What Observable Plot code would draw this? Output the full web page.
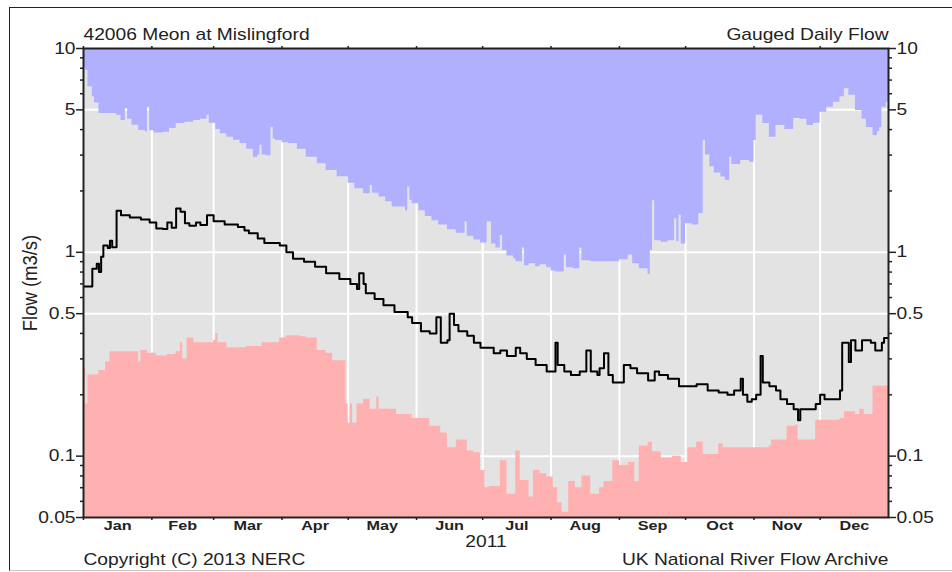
<!DOCTYPE html>
<html><head><meta charset="utf-8">
<script src="https://cdn.jsdelivr.net/npm/d3@7"></script>
<script src="https://cdn.jsdelivr.net/npm/@observablehq/plot@0.6"></script>
<style>
html,body{margin:0;padding:0;background:#fff;}
#wrap{position:relative;width:952px;height:572px;overflow:hidden;}
#border{position:absolute;left:9px;top:7px;width:960px;height:562px;border-top:1.5px solid #222;border-left:1.5px solid #222;border-bottom:1px solid #c8c8c8;}
#wrap svg{position:absolute;left:0;top:0;}
</style></head><body><div id="wrap"><div id="border"></div></div>
<script>
// ---- data (m3/s) ----
const title = "42006 Meon at Mislingford";
const subtitle = "Gauged Daily Flow";
const yearLabel = "2011";
const footLeft = "Copyright (C) 2013 NERC";
const footRight = "UK National River Flow Archive";
const yLabel = "Flow (m3/s)";
const monthStarts = ["2011-01-01","2011-02-01","2011-03-01","2011-04-01","2011-05-01","2011-06-01","2011-07-01","2011-08-01","2011-09-01","2011-10-01","2011-11-01","2011-12-01"];
const monthLabels = ["Jan","Feb","Mar","Apr","May","Jun","Jul","Aug","Sep","Oct","Nov","Dec"];
const yMajor = [10,5,1,0.5,0.1,0.05];
const yMajorLabels = ["10","5","1","0.5","0.1","0.05"];
const yMinor = [9,8,7,6,4,3,2,0.9,0.8,0.7,0.6,0.4,0.3,0.2,0.09,0.08,0.07,0.06];
const yGrid = [5,1,0.5,0.1];

const flow = [["2011-01-01",0.68],["2011-01-05",0.83],["2011-01-07",0.88],["2011-01-08",0.80],["2011-01-09",0.95],["2011-01-10",1.08],["2011-01-12",1.05],["2011-01-13",1.14],["2011-01-14",1.06],["2011-01-16",1.60],["2011-01-18",1.52],["2011-01-22",1.48],["2011-01-27",1.45],["2011-01-31",1.40],["2011-02-03",1.31],["2011-02-06",1.30],["2011-02-08",1.40],["2011-02-10",1.32],["2011-02-12",1.64],["2011-02-14",1.58],["2011-02-16",1.39],["2011-02-18",1.35],["2011-02-21",1.40],["2011-02-23",1.36],["2011-02-26",1.52],["2011-03-01",1.42],["2011-03-06",1.37],["2011-03-12",1.33],["2011-03-15",1.28],["2011-03-17",1.24],["2011-03-21",1.17],["2011-03-24",1.11],["2011-03-31",1.08],["2011-04-03",1.00],["2011-04-06",0.93],["2011-04-11",0.90],["2011-04-16",0.85],["2011-04-21",0.79],["2011-04-27",0.74],["2011-05-02",0.70],["2011-05-05",0.66],["2011-05-06",0.79],["2011-05-08",0.70],["2011-05-09",0.63],["2011-05-13",0.59],["2011-05-17",0.55],["2011-05-22",0.51],["2011-05-28",0.48],["2011-05-30",0.45],["2011-06-03",0.41],["2011-06-07",0.40],["2011-06-10",0.48],["2011-06-12",0.36],["2011-06-15",0.37],["2011-06-16",0.50],["2011-06-18",0.44],["2011-06-20",0.41],["2011-06-24",0.39],["2011-06-27",0.36],["2011-06-30",0.34],["2011-07-06",0.32],["2011-07-09",0.33],["2011-07-12",0.31],["2011-07-16",0.34],["2011-07-18",0.32],["2011-07-21",0.30],["2011-07-25",0.28],["2011-07-30",0.26],["2011-08-03",0.36],["2011-08-04",0.28],["2011-08-07",0.26],["2011-08-10",0.25],["2011-08-14",0.26],["2011-08-17",0.33],["2011-08-19",0.26],["2011-08-22",0.25],["2011-08-23",0.27],["2011-08-25",0.32],["2011-08-27",0.25],["2011-08-29",0.23],["2011-09-03",0.28],["2011-09-06",0.27],["2011-09-09",0.255],["2011-09-14",0.235],["2011-09-17",0.26],["2011-09-19",0.25],["2011-09-23",0.24],["2011-09-28",0.22],["2011-10-06",0.225],["2011-10-11",0.21],["2011-10-16",0.205],["2011-10-20",0.20],["2011-10-23",0.21],["2011-10-26",0.24],["2011-10-27",0.20],["2011-10-29",0.185],["2011-10-31",0.19],["2011-11-02",0.20],["2011-11-04",0.31],["2011-11-05",0.23],["2011-11-08",0.22],["2011-11-11",0.21],["2011-11-13",0.19],["2011-11-16",0.18],["2011-11-19",0.17],["2011-11-21",0.15],["2011-11-22",0.17],["2011-11-29",0.18],["2011-12-01",0.20],["2011-12-03",0.19],["2011-12-10",0.21],["2011-12-11",0.36],["2011-12-14",0.29],["2011-12-15",0.37],["2011-12-17",0.33],["2011-12-20",0.37],["2011-12-24",0.36],["2011-12-26",0.33],["2011-12-29",0.36],["2011-12-30",0.38]];

const maxFlow = [["2011-01-01",8.0],["2011-01-02",7.8],["2011-01-03",6.5],["2011-01-05",5.8],["2011-01-06",5.4],["2011-01-08",4.8],["2011-01-16",4.7],["2011-01-18",4.43],["2011-01-20",5.08],["2011-01-21",4.5],["2011-01-23",4.2],["2011-01-26",3.96],["2011-01-29",3.9],["2011-01-30",5.15],["2011-01-31",3.95],["2011-02-02",3.85],["2011-02-06",3.88],["2011-02-09",4.05],["2011-02-12",4.29],["2011-02-16",4.35],["2011-02-20",4.43],["2011-02-23",4.5],["2011-02-26",4.7],["2011-02-27",4.3],["2011-03-02",4.0],["2011-03-04",3.82],["2011-03-07",3.67],["2011-03-10",3.55],["2011-03-13",3.42],["2011-03-16",3.2],["2011-03-19",2.93],["2011-03-21",3.0],["2011-03-22",3.35],["2011-03-23",3.0],["2011-03-25",2.98],["2011-03-27",4.1],["2011-03-28",3.6],["2011-03-29",3.54],["2011-04-01",3.45],["2011-04-04",3.42],["2011-04-08",3.2],["2011-04-12",2.93],["2011-04-17",2.72],["2011-04-21",2.52],["2011-04-26",2.35],["2011-05-01",2.18],["2011-05-04",2.05],["2011-05-08",1.94],["2011-05-11",2.13],["2011-05-12",1.95],["2011-05-15",1.87],["2011-05-18",1.77],["2011-05-21",1.67],["2011-05-27",1.6],["2011-05-28",2.09],["2011-05-29",1.8],["2011-05-30",1.73],["2011-06-02",1.6],["2011-06-05",1.5],["2011-06-08",1.43],["2011-06-11",1.36],["2011-06-15",1.29],["2011-06-19",1.24],["2011-06-23",1.41],["2011-06-24",1.2],["2011-06-27",1.15],["2011-06-30",1.11],["2011-07-03",1.41],["2011-07-05",1.1],["2011-07-07",1.05],["2011-07-09",1.21],["2011-07-10",1.02],["2011-07-12",0.96],["2011-07-15",0.93],["2011-07-16",0.90],["2011-07-19",1.05],["2011-07-20",0.86],["2011-07-22",0.88],["2011-07-25",0.85],["2011-07-27",0.87],["2011-07-30",0.84],["2011-08-01",0.81],["2011-08-03",0.80],["2011-08-07",0.97],["2011-08-08",0.84],["2011-08-11",0.83],["2011-08-14",1.05],["2011-08-15",0.91],["2011-08-19",0.90],["2011-08-29",0.90],["2011-09-01",0.92],["2011-09-05",0.97],["2011-09-07",0.88],["2011-09-10",0.83],["2011-09-14",0.78],["2011-09-15",1.02],["2011-09-16",1.79],["2011-09-17",1.14],["2011-09-20",1.12],["2011-09-23",1.14],["2011-09-26",1.46],["2011-09-27",1.13],["2011-09-28",1.52],["2011-09-29",1.10],["2011-10-01",1.38],["2011-10-04",1.36],["2011-10-07",1.55],["2011-10-09",3.54],["2011-10-10",3.0],["2011-10-12",2.63],["2011-10-14",2.45],["2011-10-17",2.34],["2011-10-19",2.25],["2011-10-21",2.93],["2011-10-22",2.7],["2011-10-26",2.82],["2011-10-30",2.77],["2011-11-01",3.54],["2011-11-02",4.7],["2011-11-05",4.29],["2011-11-08",3.67],["2011-11-11",4.19],["2011-11-15",4.0],["2011-11-19",4.53],["2011-11-22",4.5],["2011-11-25",4.19],["2011-11-28",4.3],["2011-12-01",4.87],["2011-12-04",5.15],["2011-12-07",5.45],["2011-12-10",5.8],["2011-12-12",6.34],["2011-12-14",5.9],["2011-12-17",4.97],["2011-12-20",4.5],["2011-12-22",4.1],["2011-12-25",3.74],["2011-12-27",3.9],["2011-12-28",4.1],["2011-12-29",5.15],["2011-12-31",5.45]];

const minFlow = [["2011-01-01",0.27],["2011-01-02",0.18],["2011-01-03",0.25],["2011-01-08",0.263],["2011-01-11",0.29],["2011-01-13",0.325],["2011-01-26",0.29],["2011-01-27",0.33],["2011-01-30",0.32],["2011-02-03",0.31],["2011-02-08",0.315],["2011-02-12",0.325],["2011-02-14",0.36],["2011-02-15",0.30],["2011-02-17",0.38],["2011-02-20",0.36],["2011-03-01",0.37],["2011-03-02",0.40],["2011-03-03",0.36],["2011-03-07",0.34],["2011-03-16",0.345],["2011-03-23",0.36],["2011-03-31",0.38],["2011-04-03",0.39],["2011-04-09",0.385],["2011-04-12",0.38],["2011-04-17",0.33],["2011-04-21",0.32],["2011-04-24",0.294],["2011-04-30",0.18],["2011-05-01",0.145],["2011-05-02",0.18],["2011-05-03",0.145],["2011-05-05",0.18],["2011-05-08",0.19],["2011-05-11",0.17],["2011-05-14",0.195],["2011-05-15",0.17],["2011-05-23",0.16],["2011-05-30",0.153],["2011-06-07",0.14],["2011-06-12",0.13],["2011-06-15",0.11],["2011-06-19",0.12],["2011-06-24",0.106],["2011-06-27",0.104],["2011-06-30",0.085],["2011-07-02",0.07],["2011-07-04",0.071],["2011-07-09",0.095],["2011-07-12",0.065],["2011-07-16",0.106],["2011-07-18",0.076],["2011-07-22",0.063],["2011-07-24",0.085],["2011-07-27",0.082],["2011-07-30",0.079],["2011-08-02",0.070],["2011-08-04",0.059],["2011-08-06",0.053],["2011-08-09",0.075],["2011-08-12",0.07],["2011-08-15",0.08],["2011-08-19",0.065],["2011-08-23",0.07],["2011-08-25",0.075],["2011-08-29",0.095],["2011-09-01",0.09],["2011-09-05",0.093],["2011-09-08",0.075],["2011-09-10",0.112],["2011-09-14",0.117],["2011-09-16",0.105],["2011-09-20",0.098],["2011-09-25",0.10],["2011-09-29",0.093],["2011-10-02",0.11],["2011-10-06",0.117],["2011-10-09",0.102],["2011-10-16",0.115],["2011-10-18",0.11],["2011-11-08",0.112],["2011-11-09",0.12],["2011-11-16",0.14],["2011-11-20",0.142],["2011-11-21",0.12],["2011-11-29",0.15],["2011-12-10",0.153],["2011-12-12",0.165],["2011-12-17",0.16],["2011-12-19",0.17],["2011-12-21",0.16],["2011-12-25",0.22],["2011-12-31",0.22]];

// ---- build ----
const yearStart = new Date("2011-01-01"), yearEnd = new Date("2012-01-01");
function series(arr) {
  const d = arr.map(([t, v]) => ({date: new Date(t), v}));
  d.push({date: yearEnd, v: d[d.length - 1].v});
  return d;
}
const flowData = series(flow), maxData = series(maxFlow), minData = series(minFlow);
const starts = monthStarts.map(s => new Date(s));
const mids = starts.map((s, i) => new Date((+s + +(starts[i + 1] || yearEnd)) / 2));
const yTop = yMajor[0], yBottom = yMajor[yMajor.length - 1];
const yTicks = yMajor.map((v, i) => ({v, label: yMajorLabels[i]}));
const ink = "#222";
const txt = {fontSize: 16, lineAnchor: "middle"};

const chart = Plot.plot({
  width: 952, height: 572,
  marginLeft: 83, marginRight: 64, marginTop: 48, marginBottom: 55,
  style: {fontFamily: "'Liberation Sans', Arial, sans-serif", fontSize: "16px", background: "transparent", color: ink, overflow: "visible"},
  x: {type: "utc", domain: [yearStart, yearEnd], label: null},
  y: {type: "log", domain: [yBottom, yTop], label: null},
  marks: [
    Plot.frame({fill: "#e3e3e3"}),
    Plot.ruleX(starts.slice(1), {stroke: "white", strokeWidth: 2}),
    Plot.ruleY(yGrid, {stroke: "white", strokeWidth: 2}),
    Plot.areaY(maxData, {x: "date", y1: () => yTop, y2: "v", curve: "step-after", fill: "#b0b0ff", clip: true}),
    Plot.areaY(minData, {x: "date", y1: () => yBottom, y2: "v", curve: "step-after", fill: "#ffb0b0", clip: true}),
    Plot.line(flowData, {x: "date", y: "v", curve: "step-after", stroke: "black", strokeWidth: 2, clip: true}),
    Plot.frame({stroke: ink, strokeWidth: 2}),
    Plot.axisY({anchor: "left", ticks: yMajor, tickSize: 7, strokeWidth: 1.5, tickFormat: () => "", label: null}),
    Plot.axisY({anchor: "left", ticks: yMinor, tickSize: 3, strokeWidth: 1.5, tickFormat: () => "", label: null}),
    Plot.axisY({anchor: "right", ticks: yMajor, tickSize: 7, strokeWidth: 1.5, tickFormat: () => "", label: null}),
    Plot.axisY({anchor: "right", ticks: yMinor, tickSize: 3, strokeWidth: 1.5, tickFormat: () => "", label: null}),
    Plot.text(yTicks, {y: "v", text: "label", frameAnchor: "left", textAnchor: "end", dx: -8, ...txt}),
    Plot.text(yTicks, {y: "v", text: "label", frameAnchor: "right", textAnchor: "start", dx: 8, ...txt}),
    Plot.axisX({anchor: "top", ticks: starts, tickSize: 3, strokeWidth: 1.5, tickFormat: () => "", label: null}),
    Plot.axisX({anchor: "bottom", ticks: starts, tickSize: 3, strokeWidth: 1.5, tickFormat: () => "", label: null}),
    Plot.axisX({anchor: "bottom", ticks: mids, tickSize: 0, tickPadding: 3, fontSize: 13.5, fontWeight: "bold", tickFormat: d => monthLabels[d.getUTCMonth()], label: null}),
    Plot.text([title], {frameAnchor: "top-left", textAnchor: "start", dy: -14, ...txt}),
    Plot.text([subtitle], {frameAnchor: "top-right", textAnchor: "end", dy: -14, ...txt}),
    Plot.text([yearLabel], {frameAnchor: "bottom", textAnchor: "middle", dy: 24, ...txt}),
    Plot.text([footLeft], {frameAnchor: "bottom-left", textAnchor: "start", dy: 42, ...txt}),
    Plot.text([footRight], {frameAnchor: "bottom-right", textAnchor: "end", dy: 42, ...txt}),
    Plot.text([yLabel], {frameAnchor: "left", textAnchor: "middle", dx: -53, rotate: -90, fontSize: 18.5, lineAnchor: "middle"})
  ]
});
document.getElementById("wrap").appendChild(chart);

// the reference's lettering is horizontally widened (~1.2x)
chart.querySelectorAll("text").forEach(t => {
  const tr = t.getAttribute("transform") || "";
  const x = +t.getAttribute("x") || 0;
  if (tr.includes("rotate")) t.setAttribute("transform", tr + " scale(1,1.05)");
  else t.setAttribute("transform", `${tr} translate(${x},0) scale(1.2,1) translate(${-x},0)`);
});
</script></body></html>
